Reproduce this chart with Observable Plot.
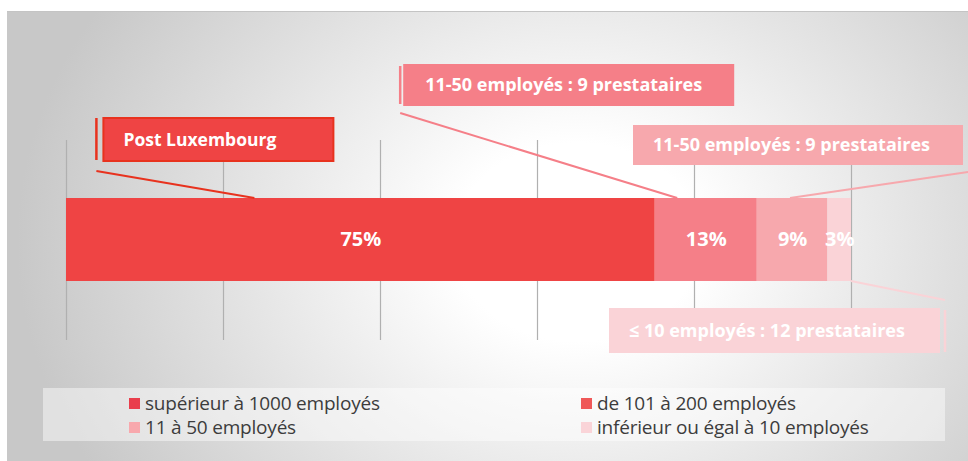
<!DOCTYPE html>
<html>
<head>
<meta charset="utf-8">
<script src="https://cdn.jsdelivr.net/npm/d3@7"></script>
<script src="https://cdn.jsdelivr.net/npm/@observablehq/plot@0.6"></script>
<style>
  html, body { margin: 0; padding: 0; background: #fff; }
  #wrap { position: relative; width: 968px; height: 461px; overflow: hidden; font-family: "Open Sans", sans-serif; }
  #bg { position: absolute; left: 7px; top: 11px; width: 961px; height: 450px;
        border-top: 1px solid #c4c4c4;
        background: radial-gradient(ellipse 560px 450px at 570px 230px, #ffffff 0%, #ffffff 22%, #c8c8c8 100%); }
  #chart { position: absolute; left: 0; top: 0; }
  #legend { position: absolute; left: 43px; top: 388px; width: 902px; height: 53px;
            background: rgba(255,255,255,0.45); }
  .item { position: absolute; display: flex; align-items: center; font-size: 19px; color: #3c3c3c; white-space: nowrap; letter-spacing: -0.2px; }
  .sw { width: 11px; height: 11px; margin-right: 5px; }
</style>
</head>
<body>
<div id="wrap">
  <div id="bg"></div>
  <div id="chart"></div>
  <div id="legend"></div>
</div>
<script>
// ---- data ----
const categories = ["supérieur à 1000 employés", "de 101 à 200 employés", "11 à 50 employés", "inférieur ou égal à 10 employés"];
const shares = [75, 13, 9, 3];
const tickValues = [0, 20, 40, 60, 80, 100];
const calloutLabels = ["Post Luxembourg", "11-50 employés : 9 prestataires", "11-50 employés : 9 prestataires", "≤ 10 employés : 12 prestataires"];
const calloutSegments = [0, 1, 2, 3];

// ---- styles ----
const barColors = ["#EF4444", "#F57F88", "#F7A8AD", "#FAD3D7"];
const legendColors = ["#E93E4C", "#EF5858", "#F8A8AD", "#FAD4D8"];
const calloutStroke = ["#E8321E", "#F57F88", "#F7A8AD", "#FAD3D7"];

const rows = categories.map((c, i) => ({category: c, share: shares[i]}));
const starts = d3.cumsum([0, ...shares]);

// layout of each callout relative to its anchor point on the bar (pixels)
const layout = [
  {frac: 0.32, edge: "top", bx: -151, by: -80, bw: 230, bh: 43, tx: 20, fs: 17.5, border: true, side: [-158, -80, -38], lead: [-158, -27]},
  {frac: 0.22, edge: "top", bx: -274, by: -134, bw: 331, bh: 42, tx: 22, fs: 18, side: [-277, -132, -94], lead: [-277, -85]},
  {frac: 0.47, edge: "top", bx: -157, by: -73, bw: 330, bh: 40, tx: 20, fs: 18, side: null, lead: [178, -26]},
  {frac: 1.0, edge: "bottom", bx: -242, by: 27, bw: 331, bh: 45, tx: 20, fs: 18, side: [94, 29, 71], lead: [94, 19]}
];

function callouts(index, scales) {
  const g = d3.create("svg:g");
  const yTop = scales.y("all");
  const yBot = yTop + scales.y.bandwidth();
  layout.forEach((L, k) => {
    const s = calloutSegments[k];
    const ax = scales.x(starts[s] + L.frac * shares[s]);
    const ay = L.edge === "top" ? yTop : yBot;
    const col = calloutStroke[k];
    g.append("line").attr("x1", ax + L.lead[0]).attr("y1", ay + L.lead[1]).attr("x2", ax).attr("y2", ay)
      .attr("stroke", col).attr("stroke-width", 2);
    if (L.side) {
      g.append("line").attr("x1", ax + L.side[0]).attr("x2", ax + L.side[0])
        .attr("y1", ay + L.side[1]).attr("y2", ay + L.side[2])
        .attr("stroke", col).attr("stroke-width", 2.5);
    }
    g.append("rect").attr("x", ax + L.bx).attr("y", ay + L.by).attr("width", L.bw).attr("height", L.bh)
      .attr("fill", barColors[s])
      .attr("stroke", L.border ? "#E8321E" : "none").attr("stroke-width", L.border ? 2 : 0);
    g.append("text").attr("x", ax + L.bx + L.tx).attr("y", ay + L.by + L.bh / 2).attr("dy", "0.35em")
      .attr("text-anchor", "start")
      .attr("fill", "white").attr("font-weight", "bold").attr("font-size", L.fs)
      .attr("font-family", "Open Sans, sans-serif").text(calloutLabels[k]);
  });
  return g.node();
}

const chart = Plot.plot({
  width: 968,
  height: 380,
  marginLeft: 66,
  marginRight: 117,
  marginTop: 140,
  marginBottom: 40,
  style: {background: "transparent", fontFamily: "Open Sans, sans-serif"},
  x: {domain: [0, 100], axis: null},
  y: {domain: ["all"], range: [198, 281], padding: 0, axis: null},
  color: {domain: categories, range: barColors},
  marks: [
    Plot.ruleX(tickValues, {stroke: "#b0b0b0", strokeWidth: 1.2}),
    Plot.barX(rows, Plot.stackX({x: "share", y: () => "all", fill: "category"})),
    Plot.text(rows, Plot.stackX({x: "share", y: () => "all", text: d => d.share + "%", fill: "white", fontWeight: "bold", fontSize: 20})),
    callouts
  ]
});
document.getElementById("chart").appendChild(chart);

// legend
const legend = document.getElementById("legend");
const pos = [[86, 15], [538, 15], [86, 39], [538, 39]];
categories.forEach((c, i) => {
  const it = document.createElement("div");
  it.className = "item";
  it.style.left = pos[i][0] + "px";
  it.style.top = (pos[i][1] - 12) + "px";
  it.style.height = "24px";
  const sw = document.createElement("div");
  sw.className = "sw";
  sw.style.background = legendColors[i];
  it.appendChild(sw);
  const t = document.createElement("span");
  t.textContent = c;
  it.appendChild(t);
  legend.appendChild(it);
});
</script>
</body>
</html>
